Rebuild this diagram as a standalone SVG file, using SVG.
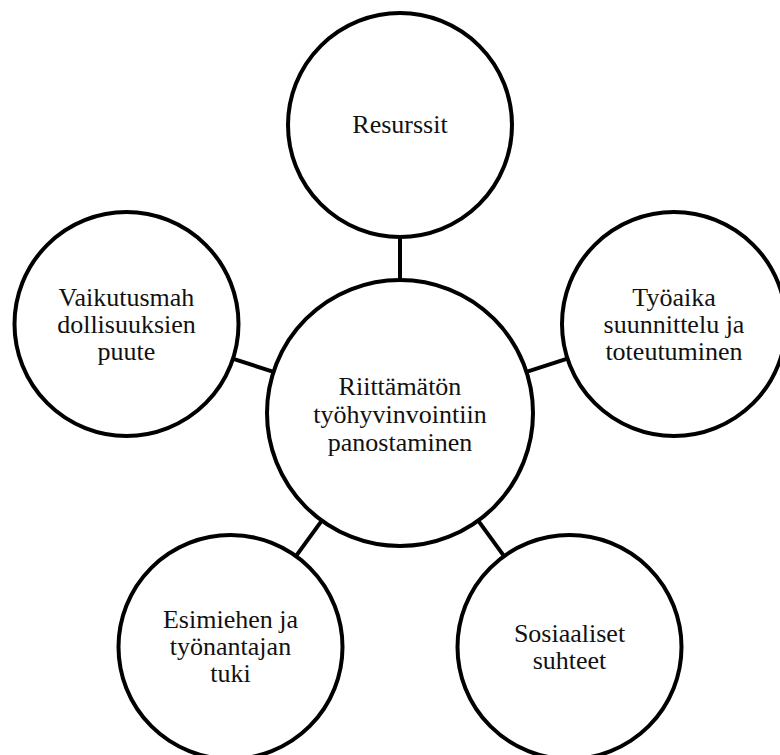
<svg xmlns="http://www.w3.org/2000/svg" width="780" height="755" viewBox="0 0 780 755">
<style>
.c{fill:#fff;stroke:#000;stroke-width:4}
.l{stroke:#000;stroke-width:4;fill:none}
.t{font-family:'Liberation Serif','Times New Roman',serif;font-size:26px;fill:#111;text-anchor:middle}
</style>
<rect width="780" height="755" fill="#fff"/>
<g id="connectors">
<line class="l" x1="400" y1="280" x2="400" y2="237"/>
<line class="l" x1="526.5" y1="371.9" x2="567.4" y2="358.6"/>
<line class="l" x1="478.2" y1="520.6" x2="503.5" y2="555.4"/>
<line class="l" x1="321.8" y1="520.6" x2="296.5" y2="555.4"/>
<line class="l" x1="273.5" y1="371.9" x2="232.6" y2="358.6"/>
</g>
<g id="center">
<circle class="c" cx="400" cy="413" r="133"/>
<text class="t" x="400" y="395">Riittämätön</text>
<text class="t" x="400" y="423">työhyvinvointiin</text>
<text class="t" x="400" y="451">panostaminen</text>
</g>
<g id="resurssit">
<circle class="c" cx="400" cy="125" r="112"/>
<text class="t" x="400" y="133">Resurssit</text>
</g>
<g id="tyoaika">
<circle class="c" cx="674" cy="324" r="112"/>
<text class="t" x="674" y="306">Työaika</text>
<text class="t" x="674" y="333">suunnittelu ja</text>
<text class="t" x="674" y="360">toteutuminen</text>
</g>
<g id="sosiaaliset">
<circle class="c" cx="569.5" cy="647" r="112"/>
<text class="t" x="569.5" y="642">Sosiaaliset</text>
<text class="t" x="569.5" y="669">suhteet</text>
</g>
<g id="esimiehen">
<circle class="c" cx="230.5" cy="647" r="112"/>
<text class="t" x="230.5" y="628">Esimiehen ja</text>
<text class="t" x="230.5" y="655">työnantajan</text>
<text class="t" x="230.5" y="682">tuki</text>
</g>
<g id="vaikutus">
<circle class="c" cx="126.5" cy="324" r="112"/>
<text class="t" x="126.5" y="306">Vaikutusmah</text>
<text class="t" x="126.5" y="333">dollisuuksien</text>
<text class="t" x="126.5" y="360">puute</text>
</g>
</svg>
